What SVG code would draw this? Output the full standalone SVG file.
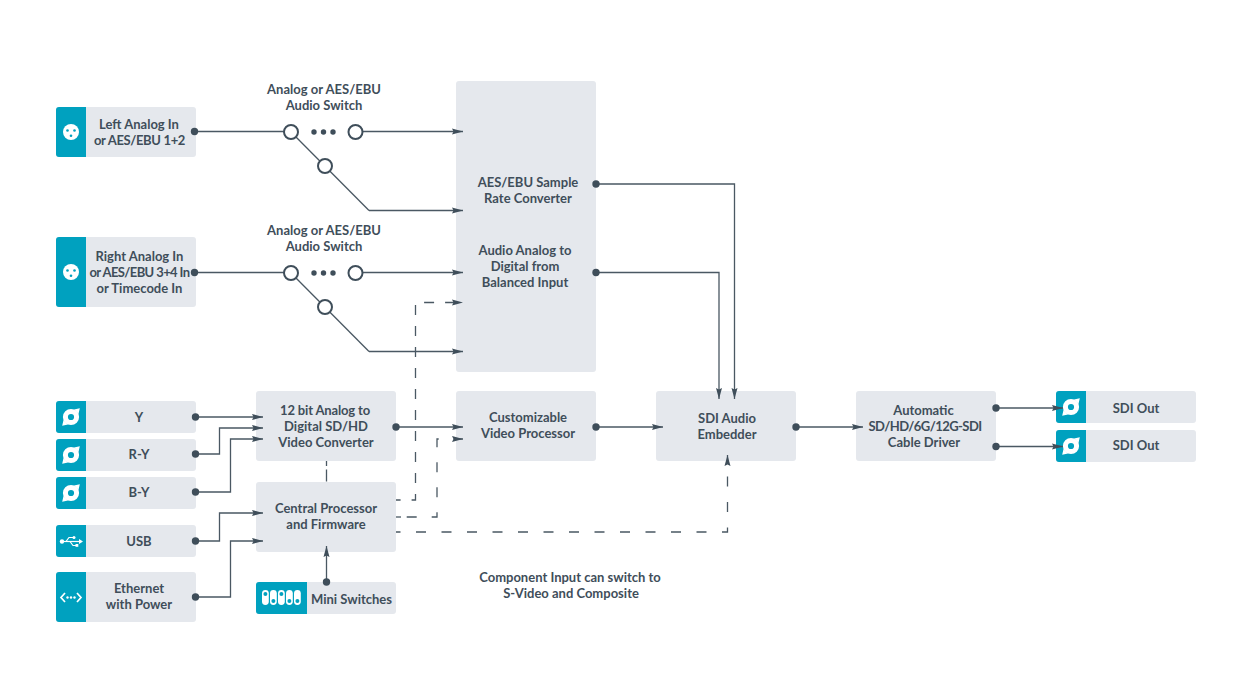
<svg xmlns="http://www.w3.org/2000/svg" width="1259" height="681" viewBox="0 0 1259 681">
<style>
.box{fill:#e5e8ed}
.teal{fill:#00a1bf}
.t{font-family:"Lato","Liberation Sans",sans-serif;font-size:13px;font-weight:700;fill:#3f4e5a;text-anchor:middle}
.c{fill:none;stroke:#4a5863;stroke-width:1.3}
.a{marker-end:url(#arr)}
.dot{fill:#3f4e5a}
.sw{fill:#fff;stroke:#3f4e5a;stroke-width:2}
.ic{fill:#fff}
</style>
<defs>
<marker id="arr" markerUnits="userSpaceOnUse" markerWidth="12" markerHeight="8" refX="11" refY="4" orient="auto"><path d="M0 1 L11 4 L0 7 L1.5 4Z" fill="#3f4e5a"/></marker>
<g id="xlr"><circle r="8" class="ic"/><circle cx="-3.5" cy="-1.5" r="1.3" fill="#00a1bf"/><circle cx="3.5" cy="-1.5" r="1.3" fill="#00a1bf"/><circle cx="0" cy="3.8" r="1.3" fill="#00a1bf"/></g>
<g id="bnc"><circle r="5.600" fill="none" stroke="#fff" stroke-width="5"/><path d="M3 -7.500 L8.800 -8.800 L7.500 -3Z M-3 7.500 L-8.800 8.800 L-7.500 3Z" class="ic"/></g>
</defs>

<g id="left-in"><rect class="box" x="56" y="107" width="140" height="50" rx="3"/><path class="teal" d="M59 107H86V157H59a3 3 0 0 1-3-3V110a3 3 0 0 1 3-3Z"/><use href="#xlr" x="71" y="132"/><text class="t" x="139" y="129">Left Analog In</text><text class="t" x="139.500" y="145" letter-spacing="-0.35">or AES/EBU 1+2</text></g>
<g id="right-in"><rect class="box" x="56" y="237" width="140" height="70" rx="3"/><path class="teal" d="M59 237H86V307H59a3 3 0 0 1-3-3V240a3 3 0 0 1 3-3Z"/><use href="#xlr" x="71" y="272"/><text class="t" x="139.500" y="261">Right Analog In</text><text class="t" x="139.500" y="277" letter-spacing="-0.6">or AES/EBU 3+4 In</text><text class="t" x="139.500" y="293">or Timecode In</text></g>
<g id="y-in"><rect class="box" x="56" y="401" width="140" height="32" rx="3"/><path class="teal" d="M59 401H86V433H59a3 3 0 0 1-3-3V404a3 3 0 0 1 3-3Z"/><use href="#bnc" x="71" y="417"/><text class="t" x="139" y="422">Y</text></g>
<g id="ry-in"><rect class="box" x="56" y="439" width="140" height="32" rx="3"/><path class="teal" d="M59 439H86V471H59a3 3 0 0 1-3-3V442a3 3 0 0 1 3-3Z"/><use href="#bnc" x="71" y="455"/><text class="t" x="139" y="459">R-Y</text></g>
<g id="by-in"><rect class="box" x="56" y="477" width="140" height="32" rx="3"/><path class="teal" d="M59 477H86V509H59a3 3 0 0 1-3-3V480a3 3 0 0 1 3-3Z"/><use href="#bnc" x="71" y="493"/><text class="t" x="139" y="497">B-Y</text></g>
<g id="usb"><rect class="box" x="56" y="525" width="140" height="32" rx="3"/><path class="teal" d="M59 525H86V557H59a3 3 0 0 1-3-3V528a3 3 0 0 1 3-3Z"/>
<g class="ic"><circle cx="62" cy="541.500" r="2.200"/><path d="M62 540.900H80V542.100H62Z"/><path d="M79 539L83 541.500L79 544Z"/><path d="M66 541.500L69 537.500H73" fill="none" stroke="#fff" stroke-width="1.200"/><path d="M70 541.500L73 545.500H76" fill="none" stroke="#fff" stroke-width="1.200"/><circle cx="74" cy="537.500" r="1.500"/><rect x="75.500" y="544" width="2.800" height="2.800"/></g>
<text class="t" x="139" y="546">USB</text></g>
<g id="ethernet"><rect class="box" x="56" y="572" width="140" height="50" rx="3"/><path class="teal" d="M59 572H86V622H59a3 3 0 0 1-3-3V575a3 3 0 0 1 3-3Z"/>
<path d="M65 593L61 597.500L65 602M77 593L81 597.500L77 602" fill="none" stroke="#fff" stroke-width="1.700"/><circle cx="67.500" cy="597.500" r="1.200" class="ic"/><circle cx="71" cy="597.500" r="1.200" class="ic"/><circle cx="74.500" cy="597.500" r="1.200" class="ic"/>
<text class="t" x="139" y="593">Ethernet</text><text class="t" x="139" y="609">with Power</text></g>

<g id="aes-converter"><rect class="box" x="456" y="81" width="140" height="291" rx="3"/><text class="t" x="528" y="187">AES/EBU Sample</text><text class="t" x="528" y="203">Rate Converter</text><text class="t" x="525" y="255">Audio Analog to</text><text class="t" x="525" y="271">Digital from</text><text class="t" x="525" y="287">Balanced Input</text></g>
<g id="video-converter"><rect class="box" x="256" y="391" width="140" height="70" rx="3"/><text class="t" x="325" y="415" letter-spacing="-0.15">12 bit Analog to</text><text class="t" x="326" y="431">Digital SD/HD</text><text class="t" x="326" y="447">Video Converter</text></g>
<g id="central-processor"><rect class="box" x="256" y="482" width="140" height="70" rx="3"/><text class="t" x="326" y="513">Central Processor</text><text class="t" x="326" y="529">and Firmware</text></g>
<g id="mini-switches"><rect class="box" x="256" y="582" width="140" height="32" rx="3"/><path class="teal" d="M259 582H307V614H259a3 3 0 0 1-3-3V585a3 3 0 0 1 3-3Z"/>
<g class="ic"><rect x="262" y="590" width="6.800" height="15" rx="3.400"/><rect x="270" y="590" width="6.800" height="15" rx="3.400"/><rect x="278" y="590" width="6.800" height="15" rx="3.400"/><rect x="286" y="590" width="6.800" height="15" rx="3.400"/><rect x="294" y="590" width="6.800" height="15" rx="3.400"/></g>
<g class="teal"><circle cx="265.400" cy="594" r="2"/><circle cx="273.400" cy="601" r="2"/><circle cx="281.400" cy="594" r="2"/><circle cx="289.400" cy="601" r="2"/><circle cx="297.400" cy="601" r="2"/></g>
<text class="t" x="351.500" y="604">Mini Switches</text></g>
<g id="video-processor"><rect class="box" x="456" y="391" width="140" height="70" rx="3"/><text class="t" x="528" y="422">Customizable</text><text class="t" x="528" y="438">Video Processor</text></g>
<g id="embedder"><rect class="box" x="656" y="391" width="140" height="70" rx="3"/><text class="t" x="727" y="423">SDI Audio</text><text class="t" x="727" y="439">Embedder</text></g>
<g id="driver"><rect class="box" x="856" y="391" width="140" height="70" rx="3"/><text class="t" x="923.500" y="415">Automatic</text><text class="t" x="925" y="431" letter-spacing="-0.55">SD/HD/6G/12G-SDI</text><text class="t" x="924" y="447">Cable Driver</text></g>
<g id="sdi-out-1"><rect class="box" x="1056" y="391" width="140" height="32" rx="3"/><path class="teal" d="M1059 391H1086V423H1059a3 3 0 0 1-3-3V394a3 3 0 0 1 3-3Z"/><use href="#bnc" x="1071" y="407"/><text class="t" x="1136" y="413">SDI Out</text></g>
<g id="sdi-out-2"><rect class="box" x="1056" y="430" width="140" height="32" rx="3"/><path class="teal" d="M1059 430H1086V462H1059a3 3 0 0 1-3-3V433a3 3 0 0 1 3-3Z"/><use href="#bnc" x="1071" y="446"/><text class="t" x="1136" y="450">SDI Out</text></g>
<g id="note"><text class="t" x="570" y="582">Component Input can switch to</text><text class="t" x="571" y="598">S-Video and Composite</text></g>

<g id="connectors">
<path class="c" d="M195 131.500H284.500"/>
<path class="c a" d="M362 131.500H463"/>
<path class="c" d="M291 132L369 210.500"/>
<path class="c a" d="M369 210.500H463"/>
<path class="c" d="M195 272.500H284.500"/>
<path class="c a" d="M362 272.500H463"/>
<path class="c" d="M291 273L369 351.500"/>
<path class="c a" d="M369 351.500H463"/>
<path class="c a" d="M596 184H734.500V399"/>
<path class="c a" d="M596 272.500H719V399"/>
<path class="c a" d="M195.500 417H263"/>
<path class="c a" d="M195.500 454H219.500V428H263"/>
<path class="c a" d="M195.500 492H230.500V439H263"/>
<path class="c a" d="M195.500 541H219.500V513H263"/>
<path class="c a" d="M195.500 597H230.500V541H263"/>
<path class="c a" d="M396 427H463"/>
<path class="c a" d="M596 427H663"/>
<path class="c a" d="M796 427H863"/>
<path class="c a" d="M996 408H1063"/>
<path class="c a" d="M996 446.500H1063"/>
<path class="c a" d="M326.500 582V546"/>
<path class="c" stroke-dasharray="5 3.500 12" d="M326.500 461V482"/>
<path class="c a" stroke-dasharray="10 11" stroke-dashoffset="5.400" d="M396 500H415.500V302.500H463"/>
<path class="c" d="M396 517H401"/>
<path class="c a" stroke-dasharray="10 15" stroke-dashoffset="14.300" d="M396 517H437V439H463"/>
<path class="c a" stroke-dasharray="10 15.500" stroke-dashoffset="5.500" d="M396 532H727.500V455"/>
</g>

<g id="switch-1"><text class="t" x="324" y="94">Analog or AES/EBU</text><text class="t" x="324" y="110">Audio Switch</text>
<circle class="sw" cx="291" cy="132" r="7"/><circle class="sw" cx="355.500" cy="132" r="7"/><circle class="sw" cx="325" cy="166" r="7"/><circle class="dot" cx="314" cy="132" r="2.700"/><circle class="dot" cx="323.500" cy="132" r="2.700"/><circle class="dot" cx="333" cy="132" r="2.700"/></g>
<g id="switch-2"><text class="t" x="324" y="235">Analog or AES/EBU</text><text class="t" x="324" y="251">Audio Switch</text>
<circle class="sw" cx="291" cy="273" r="7"/><circle class="sw" cx="355.500" cy="273" r="7"/><circle class="sw" cx="325" cy="307" r="7"/><circle class="dot" cx="314" cy="273" r="2.700"/><circle class="dot" cx="323.500" cy="273" r="2.700"/><circle class="dot" cx="333" cy="273" r="2.700"/></g>

<g id="dots">
<circle class="dot" cx="194.500" cy="131.500" r="3.700"/><circle class="dot" cx="194.500" cy="272.500" r="3.700"/>
<circle class="dot" cx="195.500" cy="417" r="3.700"/><circle class="dot" cx="195.500" cy="454" r="3.700"/><circle class="dot" cx="195.500" cy="492" r="3.700"/><circle class="dot" cx="195.500" cy="541" r="3.700"/><circle class="dot" cx="195.500" cy="597" r="3.700"/>
<circle class="dot" cx="396" cy="427" r="3.700"/><circle class="dot" cx="596" cy="184" r="3.700"/><circle class="dot" cx="596" cy="272.500" r="3.700"/><circle class="dot" cx="596" cy="427" r="3.700"/><circle class="dot" cx="796" cy="427" r="3.700"/><circle class="dot" cx="996" cy="408" r="3.700"/><circle class="dot" cx="996" cy="446.500" r="3.700"/><circle class="dot" cx="326.500" cy="582" r="3.700"/></g>
</svg>
